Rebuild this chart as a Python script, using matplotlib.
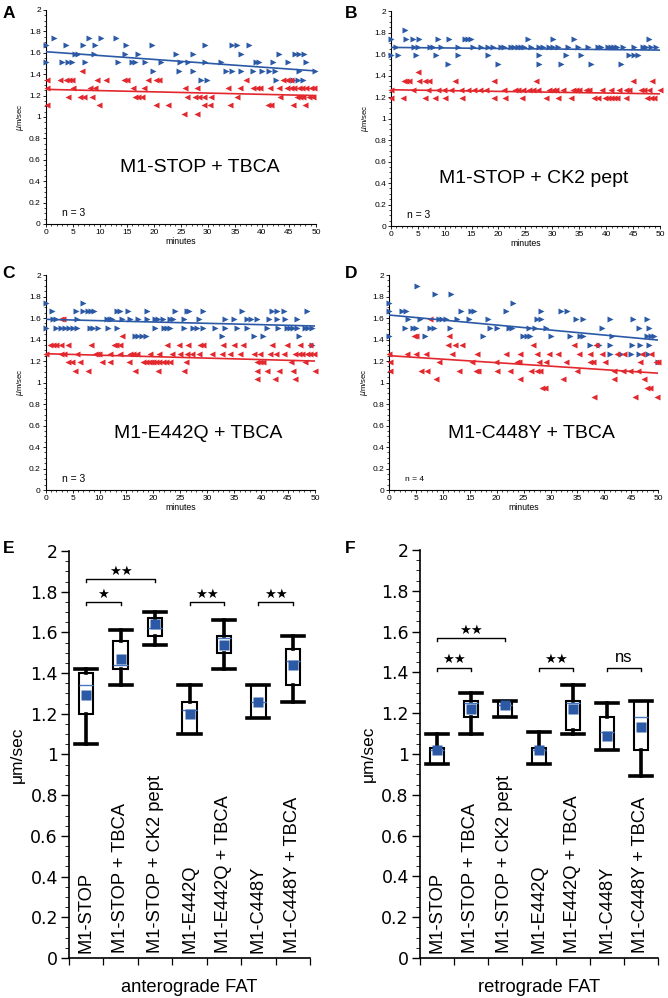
import matplotlib
matplotlib.use('Agg')
import matplotlib.pyplot as plt
from matplotlib.ticker import MultipleLocator, FuncFormatter

plt.rcParams['font.family'] = ['Liberation Sans', 'DejaVu Sans']

BLUE = '#2b59a6'
RED = '#e2272d'

# ---------------- scatter data (velocity level -> time points, minutes) ----------------
A_antero = {
    1.74: [1.5, 8.1, 10.2, 13.0],
    1.67: [0, 3.75, 6.95, 9.1, 14.8, 19.6, 29.4, 34.4, 35.3, 37.6],
    1.59: [5.4, 6.0, 9.0, 14.7, 17.0, 24.1, 27.2, 36.2, 43.2, 46.1, 46.9, 47.7],
    1.51: [0, 2.95, 4.2, 4.8, 7.3, 13.4, 15.9, 16.5, 18.35, 21.4, 24.8, 26.4, 29.4, 32.5,
           38.9, 39.5, 42.0, 44.8, 48.2],
    1.43: [19.8, 24.7, 27.2, 33.4, 34.4, 36.2, 38.4, 40.1, 41.3, 42.4, 46.9, 49.8],
    1.35: [28.8, 29.8, 42.6, 45.8, 46.7, 47.6],
}
A_retro = {
    1.43: [6.65],
    1.35: [0.3, 2.65, 3.7, 4.3, 4.8, 9.5, 11.2, 14.4, 15.0, 19.0, 20.4, 21.0, 37.0, 43.9, 44.6, 45.3],
    1.27: [0.2, 5.1, 8.2, 9.1, 16.2, 18.1, 25.8, 27.9, 33.8, 35.9, 38.4, 39.0, 39.6, 41.5, 43.2,
           44.6, 45.3, 46.0, 46.8, 47.5, 48.2, 49.0, 49.6],
    1.19: [4.2, 6.3, 7.0, 8.5, 16.5, 17.1, 17.8, 26.1, 27.6, 28.4, 29.2, 30.5, 35.3, 43.3,
           46.4, 47.0, 47.6, 48.8, 49.5],
    1.11: [0.2, 9.8, 20.4, 22.7, 29.2, 30.4, 34.1, 41.2, 41.7, 45.7, 47.9],
    1.03: [25.5, 28.0],
}
B_antero = {
    1.82: [2.65],
    1.74: [0, 2.84, 4.08, 5.31, 8.72, 10.9, 13.7, 14.3, 14.9, 25.4, 30.1, 34.1, 48.0],
    1.67: [0.98, 4.4, 5.0, 7.2, 7.8, 9.3, 12.4, 15.2, 16.8, 18.0, 18.9, 20.5, 21.1, 22.3,
           22.9, 23.6, 24.2, 24.8, 26.0, 27.6, 28.2, 29.4, 30.1, 31.0, 32.9, 34.7, 36.6,
           38.4, 39.0, 40.3, 40.9, 41.5, 42.1, 43.1, 45.2, 46.8, 47.4, 48.3, 49.2],
    1.59: [0, 1.3, 4.7, 8.4, 12.4, 18.0, 27.6, 32.5, 35.3, 44.3, 45.2, 45.9],
    1.51: [10.6, 19.9, 27.5, 31.6, 37.2, 42.8],
}
B_retro = {
    1.43: [5.1],
    1.35: [2.5, 2.9, 3.3, 5.3, 6.4, 7.05, 12.0, 19.2, 27.0, 45.0, 48.6],
    1.27: [0.06, 4.08, 6.86, 8.72, 9.95, 11.2, 13.0, 14.3, 15.5, 16.5, 17.7, 21.1, 23.0,
           23.6, 24.5, 25.7, 26.4, 27.3, 29.4, 30.1, 30.7, 32.0, 33.8, 34.4, 35.0, 36.3,
           36.9, 39.3, 40.9, 42.4, 43.7, 44.3, 46.5, 47.1, 48.0, 50.0],
    1.19: [0.06, 2.22, 6.4, 8.3, 10.1, 13.2, 19.2, 21.3, 24.4, 28.8, 31.0, 33.5, 37.8, 38.4,
           39.7, 40.3, 40.9, 41.5, 42.1, 43.7, 47.5, 48.3, 48.9],
}
C_antero = {
    1.74: [0, 6.9],
    1.67: [1.1, 5.6, 7.0, 7.9, 8.5, 9.0, 13.2, 13.8, 15.2, 18.8, 24.0, 26.2, 26.7, 29.3,
           36.4, 42.0, 43.0, 44.3, 48.6],
    1.59: [1.3, 1.9, 5.75, 11.3, 11.95, 12.4, 14.1, 15.7, 17.2, 18.8, 20.3, 20.9, 21.7, 23.1,
           23.7, 25.7, 28.4, 33.3, 34.9, 37.4, 38.1, 39.2, 41.4, 42.9, 44.5, 46.7],
    1.51: [0, 2.0, 2.8, 3.6, 4.4, 5.1, 5.9, 8.2, 8.85, 9.8, 11.6, 13.2, 20.3, 21.9, 22.5,
           23.1, 25.7, 27.3, 28.1, 29.3, 31.5, 33.3, 35.5, 37.4, 41.1, 43.2, 44.8, 45.4,
           46.0, 46.7, 48.2, 48.8, 49.4],
    1.43: [16.6, 17.2, 17.8, 18.6, 32.7, 38.6, 40.3, 47.0],
    1.35: [49.4],
}
C_retro = {
    1.59: [2.8, 3.15],
    1.43: [14.1],
    1.35: [0.8, 1.4, 2.0, 2.8, 4.2, 8.5, 12.6, 13.1, 13.8, 22.5, 24.7, 26.5, 28.7, 29.3,
           32.9, 34.9, 36.7, 42.0, 44.8, 47.3, 49.1],
    1.27: [0.05, 2.8, 3.4, 5.75, 9.2, 9.6, 9.97, 11.95, 13.8, 15.7, 16.3, 16.9, 19.4, 21.1,
           23.4, 24.96, 26.2, 27.1, 28.4, 30.85, 32.7, 34.3, 36.1, 38.6, 39.8, 41.7, 42.8,
           44.2, 46.3, 46.96, 47.6, 48.5, 49.1, 49.8],
    1.19: [4.2, 4.8, 6.4, 10.4, 11.95, 15.4, 18.15, 18.6, 19.1, 19.5, 20.0, 20.5, 21.1,
           21.7, 22.4, 23.1, 26.1, 39.2, 39.8, 40.3, 45.5, 48.2],
    1.11: [5.4, 7.9, 16.5, 20.9, 25.6, 39.2, 41.1, 43.4, 46.0, 50.0],
    1.03: [39.3, 42.6, 46.3],
}
D_antero = {
    1.90: [5.26],
    1.82: [8.5, 11.6],
    1.74: [0, 23.1],
    1.67: [0, 2.5, 3.1, 13.4, 15.3, 15.8, 21.7, 28.3, 32.0, 33.1],
    1.59: [3.5, 5.75, 9.3, 9.9, 10.5, 12.6, 14.85, 18.4, 27.5, 28.2, 34.8, 36.1, 41.0,
           45.4, 47.95],
    1.51: [2.9, 4.5, 4.95, 7.7, 8.35, 11.3, 18.75, 20.0, 22.3, 22.9, 26.0, 27.05, 29.1,
           39.6, 46.4, 48.3],
    1.43: [0, 6.6, 17.5, 24.9, 25.6, 26.2, 30.0, 33.7, 35.5, 36.1, 41.5, 47.95, 48.6, 49.2],
    1.35: [37.3, 39.0, 41.0, 45.2, 46.6, 48.3],
    1.27: [41.0, 43.0, 44.9, 46.4, 48.1],
    1.19: [50.0],
}
D_retro = {
    1.59: [7.6],
    1.43: [4.6, 5.1, 11.1],
    1.35: [10.95, 12.2, 13.6, 26.8, 34.3, 38.4],
    1.27: [0, 3.3, 4.95, 6.8, 11.75, 16.4, 21.7, 24.4, 27.4, 29.7, 31.4, 35.3, 37.4, 39.6,
           42.4, 43.6, 46.9, 48.6],
    1.19: [0.2, 9.3, 15.5, 19.8, 23.7, 24.1, 27.8, 29.1, 32.8, 37.3, 37.9, 40.2, 46.6,
           49.5, 50.0],
    1.11: [0.2, 6.0, 7.1, 13.0, 16.1, 16.5, 20.1, 22.5, 26.3, 27.4, 28.0, 34.95, 41.8,
           43.5, 44.7, 46.2],
    1.03: [8.7, 24.3, 32.4, 41.8, 47.3],
    0.95: [28.5, 28.9, 47.95, 48.4],
    0.87: [38.05, 45.6, 49.8],
}

# trend lines: value at 0 min and at 50 min
trend_time = [0, 50]
A_trend_antero = [1.61, 1.43]
A_trend_retro = [1.258, 1.20]
B_trend_antero = [1.662, 1.637]
B_trend_retro = [1.268, 1.230]
C_trend_antero = [1.588, 1.526]
C_trend_retro = [1.268, 1.200]
D_trend_antero = [1.628, 1.395]
D_trend_retro = [1.250, 1.087]

panel_titles = ['M1-STOP + TBCA', 'M1-STOP + CK2 pept', 'M1-E442Q + TBCA', 'M1-C448Y + TBCA']
panel_n = ['n = 3', 'n = 3', 'n = 3', 'n = 4']

# ---------------- box plot data ----------------
categories = ['M1-STOP', 'M1-STOP + TBCA', 'M1-STOP + CK2 pept', 'M1-E442Q',
              'M1-E442Q + TBCA', 'M1-C448Y', 'M1-C448Y + TBCA']
ant_whislo = [1.05, 1.34, 1.54, 1.10, 1.42, 1.18, 1.26]
ant_q1     = [1.20, 1.42, 1.58, 1.10, 1.50, 1.18, 1.34]
ant_med    = [1.34, 1.44, 1.62, 1.22, 1.57, 1.26, 1.46]
ant_q3     = [1.40, 1.56, 1.67, 1.26, 1.58, 1.34, 1.52]
ant_whishi = [1.42, 1.61, 1.70, 1.34, 1.66, 1.34, 1.58]
ant_mean   = [1.29, 1.47, 1.64, 1.20, 1.54, 1.26, 1.44]

ret_whislo = [0.95, 1.10, 1.18, 0.95, 1.10, 1.02, 0.89]
ret_q1     = [0.95, 1.18, 1.18, 0.95, 1.12, 1.02, 1.02]
ret_med    = [1.02, 1.25, 1.24, 1.02, 1.25, 1.11, 1.18]
ret_q3     = [1.03, 1.26, 1.26, 1.03, 1.26, 1.18, 1.26]
ret_whishi = [1.10, 1.30, 1.26, 1.11, 1.34, 1.25, 1.26]
ret_mean   = [1.02, 1.22, 1.24, 1.02, 1.22, 1.09, 1.13]

ant_sig = [(0, 2, 1.861, '★★'), (0, 1, 1.748, '★'), (3, 4, 1.748, '★★'), (5, 6, 1.748, '★★')]
ret_sig = [(0, 2, 1.567, '★★'), (0, 1, 1.423, '★★'), (3, 4, 1.423, '★★'), (5, 6, 1.423, 'ns')]

fig = plt.figure(figsize=(6.68, 9.98), dpi=100)

fmt = FuncFormatter(lambda v, p: f'{v:g}')


def scatter_panel(rect, antero, retro, tr_a, tr_r, title, title_xy, ntext, nsize):
    ax = fig.add_axes(rect)
    for lvl, xs in antero.items():
        ax.plot(xs, [lvl] * len(xs), linestyle='none', marker='>', ms=4.8,
                color=BLUE, mec='none', clip_on=False, zorder=3)
    for lvl, xs in retro.items():
        ax.plot(xs, [lvl] * len(xs), linestyle='none', marker='<', ms=4.8,
                color=RED, mec='none', clip_on=False, zorder=3)
    ax.plot(trend_time, tr_a, color=BLUE, lw=1.2, zorder=4)
    ax.plot(trend_time, tr_r, color=RED, lw=1.2, zorder=4)
    ax.set_xlim(0, 50)
    ax.set_ylim(0, 2)
    for s in ['top', 'right']:
        ax.spines[s].set_visible(False)
    for s in ['left', 'bottom']:
        ax.spines[s].set_linewidth(0.8)
    ax.xaxis.set_major_locator(MultipleLocator(5))
    ax.xaxis.set_minor_locator(MultipleLocator(1))
    ax.yaxis.set_major_locator(MultipleLocator(0.2))
    ax.yaxis.set_minor_locator(MultipleLocator(0.05))
    ax.yaxis.set_major_formatter(fmt)
    ax.tick_params(which='major', length=2.5, width=0.6, labelsize=6, pad=1)
    ax.tick_params(which='minor', length=1.3, width=0.5)
    ax.set_xlabel('minutes', fontsize=6.3, labelpad=1)
    ax.set_ylabel(r'$\mu$m/sec', fontsize=5.6, labelpad=2)
    ax.text(title_xy[0], title_xy[1], title, fontsize=14, ha='center', va='center')
    ax.text(3, 0.1, ntext, fontsize=nsize, ha='left', va='center')
    return ax


scatter_panel([0.0684, 0.7756, 0.4046, 0.2144], A_antero, A_retro, A_trend_antero,
              A_trend_retro, panel_titles[0], (28.5, 0.53), panel_n[0], 7.5)
scatter_panel([0.585, 0.7735, 0.403, 0.2154], B_antero, B_retro, B_trend_antero,
              B_trend_retro, panel_titles[1], (26.6, 0.44), panel_n[1], 7.5)
scatter_panel([0.0684, 0.509, 0.403, 0.2154], C_antero, C_retro, C_trend_antero,
              C_trend_retro, panel_titles[2], (28.3, 0.53), panel_n[2], 7.5)
scatter_panel([0.5823, 0.509, 0.4031, 0.2154], D_antero, D_retro, D_trend_antero,
              D_trend_retro, panel_titles[3], (26.4, 0.53), panel_n[3], 6)


def box_panel(rect, wlo, q1, med, q3, whi, mean, sig, xlabel):
    ax = fig.add_axes(rect)
    pos = [i + 0.5 for i in range(len(categories))]
    stats = [dict(whislo=wlo[i], q1=q1[i], med=med[i], q3=q3[i], whishi=whi[i])
             for i in range(len(categories))]
    ax.bxp(stats, positions=pos, widths=0.42, capwidths=0.64, showfliers=False,
           patch_artist=True,
           boxprops=dict(facecolor='white', edgecolor='black', linewidth=1.5),
           whiskerprops=dict(color='black', linewidth=2.6),
           capprops=dict(color='black', linewidth=2.6),
           medianprops=dict(color='#4a78c0', linewidth=1.0))
    ax.plot(pos, mean, linestyle='none', marker='s', ms=7.2, color=BLUE, mec='none', zorder=5)
    for i, j, y, txt in sig:
        xi, xj = pos[i], pos[j]
        ax.plot([xi, xi, xj, xj], [y - 0.015, y, y, y - 0.015], color='black', lw=1.0)
        if txt == 'ns':
            ax.text((xi + xj) / 2, y + 0.012, txt, ha='center', va='bottom', fontsize=12)
        else:
            ax.text((xi + xj) / 2, y + 0.008, txt, ha='center', va='bottom', fontsize=9.5,
                    family=['DejaVu Sans'])
    for p, c in zip(pos, categories):
        ax.text(p, 0.025, c, rotation=90, ha='center', va='bottom', fontsize=13.2)
    ax.set_xlim(0, len(categories))
    ax.set_ylim(0, 2)
    ax.set_xticks(range(len(categories) + 1))
    ax.set_xticklabels([])
    ax.yaxis.set_major_locator(MultipleLocator(0.2))
    ax.yaxis.set_minor_locator(MultipleLocator(0.05))
    ax.yaxis.set_major_formatter(fmt)
    for s in ['top', 'right']:
        ax.spines[s].set_visible(False)
    for s in ['left', 'bottom']:
        ax.spines[s].set_linewidth(1.2)
    ax.tick_params(axis='y', which='major', length=6, width=1.0, labelsize=12.5, pad=2)
    for lab in ax.get_yticklabels():
        lab.set_family(['DejaVu Sans'])
    ax.tick_params(axis='y', which='minor', length=3, width=0.6)
    ax.tick_params(axis='x', which='major', length=5, width=0.9, pad=0)
    ax.set_xlabel(xlabel, fontsize=13.2, labelpad=10)
    ax.set_ylabel('μm/sec', fontsize=12.5, labelpad=4)
    return ax


box_panel([0.1033, 0.0401, 0.3608, 0.4078], ant_whislo, ant_q1, ant_med, ant_q3,
          ant_whishi, ant_mean, ant_sig, 'anterograde FAT')
box_panel([0.6287, 0.0401, 0.3563, 0.4088], ret_whislo, ret_q1, ret_med, ret_q3,
          ret_whishi, ret_mean, ret_sig, 'retrograde FAT')

for letter, x, y in [('A', 0.004, 0.994), ('B', 0.517, 0.994), ('C', 0.004, 0.733),
                     ('D', 0.517, 0.733), ('E', 0.004, 0.458), ('F', 0.517, 0.458)]:
    fig.text(x, y, letter, fontsize=12.5, fontweight='bold', ha='left', va='top')

fig.savefig('out.png', dpi=100)
